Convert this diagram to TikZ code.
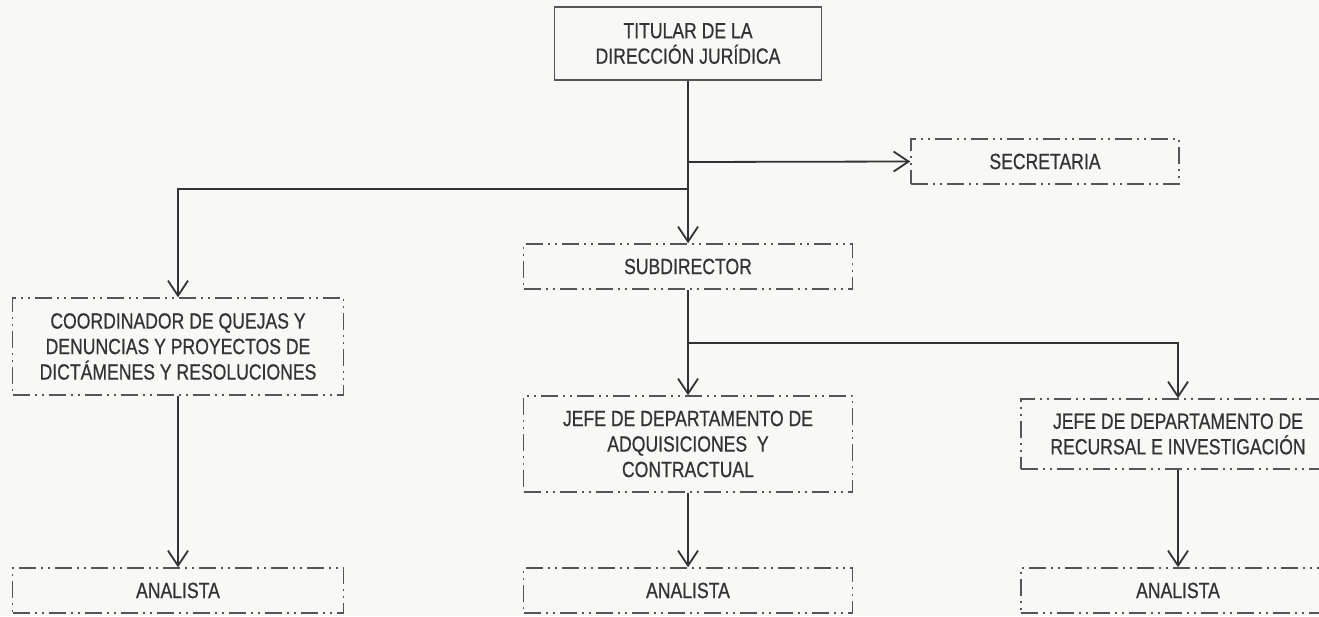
\documentclass[tikz,border=0pt]{standalone}
\usepackage{fontspec}
\setmainfont{Liberation Sans}[FakeStretch=0.80,FakeBold=0.6]
\usetikzlibrary{arrows.meta}
\definecolor{txt}{HTML}{333333}
\definecolor{boxline}{HTML}{555555}
\definecolor{conn}{HTML}{333333}
\definecolor{bg}{HTML}{F8F8F6}
\tikzset{
  orgbox/.style={draw=boxline, line width=1.5pt, text=txt, align=center,
    inner sep=0pt, font=\fontsize{22}{25.5}\selectfont,
    dash pattern=on 17pt off 5pt on 2pt off 5pt on 2pt off 5pt},
  topbox/.style={draw=boxline, line width=1.6pt, text=txt, align=center,
    inner sep=0pt, font=\fontsize{22}{25.5}\selectfont},
  link/.style={draw=conn, line width=1.8pt},
  arr/.style={link, -{Straight Barb[length=15pt,width=20pt,line width=1.8pt]}}
}
\begin{document}
\begin{tikzpicture}[x=1pt,y=-1pt]
\fill[bg] (0,0) rectangle (1319,616);
\useasboundingbox (0,0) rectangle (1319,616);
\clip (0,0) rectangle (1319,616);
\node[topbox, minimum width=267pt, minimum height=73pt] (top) at (688,43.5) {TITULAR DE LA\\DIRECCIÓN JURÍDICA};
\node[orgbox, minimum width=268pt, minimum height=45pt] (sec) at (1045,161.5) {SECRETARIA};
\node[orgbox, minimum width=329pt, minimum height=45pt] (sub) at (688,266.5) {SUBDIRECTOR};
\node[orgbox, minimum width=331pt, minimum height=97pt] (coord) at (178,346.5) {COORDINADOR DE QUEJAS Y\\DENUNCIAS Y PROYECTOS DE\\DICTÁMENES Y RESOLUCIONES};
\node[orgbox, minimum width=329pt, minimum height=96pt] (adq) at (688,444) {JEFE DE DEPARTAMENTO DE\\ADQUISICIONES~ Y\\CONTRACTUAL};
\node[orgbox, minimum width=314pt, minimum height=70pt] (rec) at (1178,434) {JEFE DE DEPARTAMENTO DE\\RECURSAL E INVESTIGACIÓN};
\node[orgbox, minimum width=331pt, minimum height=45pt] (an1) at (178,590.5) {ANALISTA};
\node[orgbox, minimum width=329pt, minimum height=45pt] (an2) at (688,590.5) {ANALISTA};
\node[orgbox, minimum width=314pt, minimum height=45pt] (an3) at (1178,590.5) {ANALISTA};
\coordinate (j1) at (688,162);
\coordinate (j2) at (688,189);
\coordinate (j3) at (688,343);
\draw[arr] (top.south) -- (sub.north);
\draw[arr] (j1) -- (sec.west);
\draw[arr] (j2) -| (coord.north);
\draw[arr] (sub.south) -- (adq.north);
\draw[arr] (j3) -| (rec.north);
\draw[arr] (coord.south) -- (an1.north);
\draw[arr] (adq.south) -- (an2.north);
\draw[arr] (rec.south) -- (an3.north);
\end{tikzpicture}
\end{document}
